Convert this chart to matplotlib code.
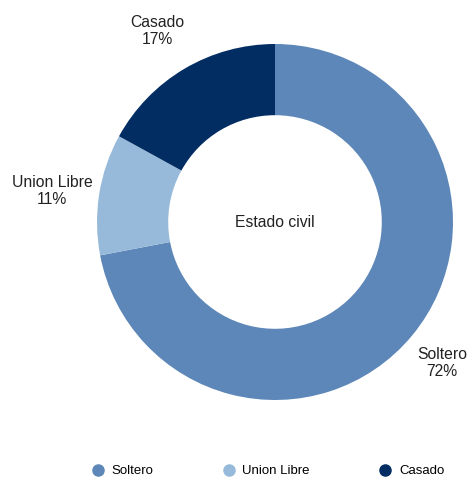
import matplotlib.pyplot as plt
from matplotlib.lines import Line2D

# estado civil data
categories = ['Soltero', 'Union Libre', 'Casado']
percents = [72, 11, 17]
colors = ['#5d87b8', '#97badb', '#022d63']

plt.rcParams['font.family'] = ['Liberation Sans', 'DejaVu Sans']

fig = plt.figure(figsize=(4.73, 4.78), dpi=100)
ax = fig.add_axes([0, 0, 1, 1])

# pixel-like coordinates, y measured from bottom
H = 478
cx, cy, r = 275, H - 222, 178

ax.pie(percents, colors=colors, startangle=90, counterclock=False,
       center=(cx, cy), radius=r, frame=True,
       wedgeprops=dict(width=r * 0.4, linewidth=0))

ax.set_xlim(0, 473)
ax.set_ylim(0, H)
ax.set_aspect('equal')
ax.axis('off')

# slice labels
label_pos = [(442, H - 363), (52, H - 191), (157, H - 31)]
for name, pct, (lx, ly) in zip(categories, percents, label_pos):
    ax.text(lx, ly, '%s\n%d%%' % (name, pct), ha='center', va='center',
            fontsize=11.3, color='#222222', linespacing=1.2)

ax.text(cx, cy, 'Estado civil', ha='center', va='center', fontsize=11.3, color='#222222')

# legend along the bottom
handles = [Line2D([], [], marker='o', linestyle='none', markersize=8,
                  markerfacecolor=c, markeredgecolor=c) for c in colors]
ax.legend(handles, categories, loc='center left', bbox_to_anchor=(91 / 473, 7 / H),
          ncol=3, frameon=False, fontsize=9.5, handlelength=1.0, handletextpad=0.55,
          columnspacing=5.2, borderaxespad=0, borderpad=0)

plt.savefig('out.png', dpi=100)
